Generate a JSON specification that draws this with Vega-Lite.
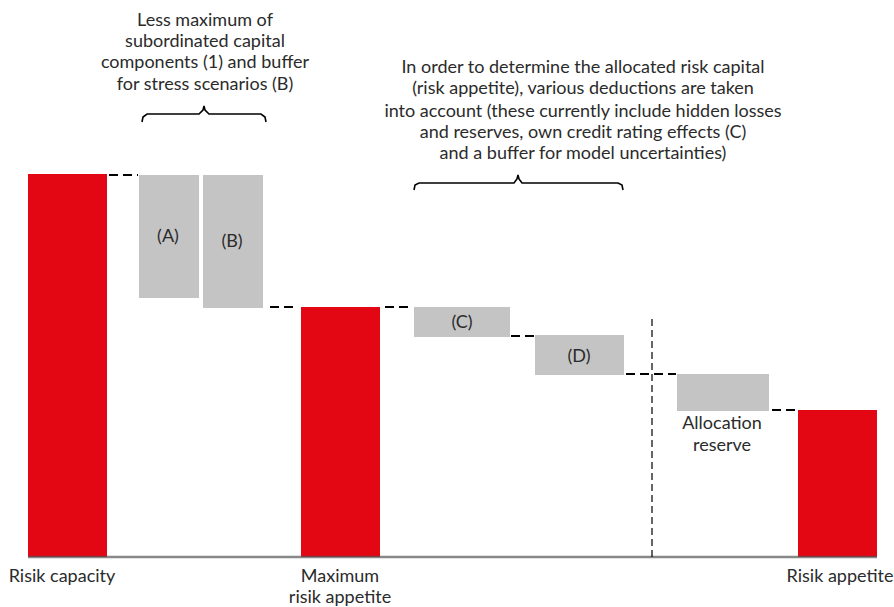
{
  "$schema": "https://vega.github.io/schema/vega-lite/v6.json",
  "width": 894,
  "height": 607,
  "padding": 0,
  "autosize": {"type": "none"},
  "config": {"view": {"stroke": null}, "text": {"font": "Lato", "fontSize": 18, "color": "#2b2b2b"}},
  "datasets": {
    "bars": [
      {"name": "Risik capacity", "kind": "total", "x0": 28, "x1": 107, "lo": 0, "hi": 383},
      {"name": "(A)", "kind": "step", "x0": 139, "x1": 199, "lo": 259, "hi": 382},
      {"name": "(B)", "kind": "step", "x0": 203, "x1": 263, "lo": 249, "hi": 382},
      {"name": "Maximum risik appetite", "kind": "total", "x0": 301, "x1": 380, "lo": 0, "hi": 250},
      {"name": "(C)", "kind": "step", "x0": 414, "x1": 510, "lo": 220, "hi": 250},
      {"name": "(D)", "kind": "step", "x0": 535, "x1": 624, "lo": 182, "hi": 222},
      {"name": "Allocation reserve", "kind": "step", "x0": 677, "x1": 769, "lo": 146, "hi": 183},
      {"name": "Risik appetite", "kind": "total", "x0": 798, "x1": 877, "lo": 0, "hi": 147}
    ],
    "connectors": [
      {"x0": 109, "x1": 138, "v": 382},
      {"x0": 270, "x1": 294, "v": 250},
      {"x0": 385, "x1": 409, "v": 250},
      {"x0": 511, "x1": 535, "v": 221},
      {"x0": 626, "x1": 676, "v": 183},
      {"x0": 772, "x1": 797, "v": 147}
    ],
    "divider": [{"x0": 652, "lo": 0, "hi": 238}],
    "baseline": [{"x0": 28, "x1": 877, "v": 0}],
    "braces": [
      {"b": 1, "o": 1, "x0": 142, "v": 435},
      {"b": 1, "o": 2, "x0": 143, "v": 440},
      {"b": 1, "o": 3, "x0": 147, "v": 443},
      {"b": 1, "o": 4, "x0": 199, "v": 443},
      {"b": 1, "o": 5, "x0": 203, "v": 447},
      {"b": 1, "o": 6, "x0": 204, "v": 451},
      {"b": 1, "o": 7, "x0": 205, "v": 447},
      {"b": 1, "o": 8, "x0": 209, "v": 443},
      {"b": 1, "o": 9, "x0": 261, "v": 443},
      {"b": 1, "o": 10, "x0": 265, "v": 440},
      {"b": 1, "o": 11, "x0": 266, "v": 435},
      {"b": 2, "o": 1, "x0": 414, "v": 367},
      {"b": 2, "o": 2, "x0": 415, "v": 372},
      {"b": 2, "o": 3, "x0": 419, "v": 374},
      {"b": 2, "o": 4, "x0": 514, "v": 374},
      {"b": 2, "o": 5, "x0": 517, "v": 378},
      {"b": 2, "o": 6, "x0": 518, "v": 382},
      {"b": 2, "o": 7, "x0": 519, "v": 378},
      {"b": 2, "o": 8, "x0": 522, "v": 374},
      {"b": 2, "o": 9, "x0": 618, "v": 374},
      {"b": 2, "o": 10, "x0": 622, "v": 372},
      {"b": 2, "o": 11, "x0": 623, "v": 367}
    ],
    "texts": [
      {"x0": 205, "v": 536, "t": "Less maximum of"},
      {"x0": 205, "v": 515, "t": "subordinated capital"},
      {"x0": 205, "v": 494, "t": "components (1) and buffer"},
      {"x0": 205, "v": 472, "t": "for stress scenarios (B)"},
      {"x0": 583, "v": 489, "t": "In order to determine the allocated risk capital"},
      {"x0": 583, "v": 468, "t": "(risk appetite), various deductions are taken"},
      {"x0": 583, "v": 445, "t": "into account (these currently include hidden losses"},
      {"x0": 583, "v": 424, "t": "and reserves, own credit rating effects (C)"},
      {"x0": 583, "v": 403, "t": "and a buffer for model uncertainties)"},
      {"x0": 168, "v": 320, "t": "(A)"},
      {"x0": 232, "v": 315, "t": "(B)"},
      {"x0": 462, "v": 234, "t": "(C)"},
      {"x0": 579, "v": 200, "t": "(D)"},
      {"x0": 722, "v": 133, "t": "Allocation"},
      {"x0": 722, "v": 111, "t": "reserve"},
      {"x0": 62, "v": -20, "t": "Risik capacity"},
      {"x0": 340, "v": -20, "t": "Maximum"},
      {"x0": 340, "v": -41, "t": "risik appetite"},
      {"x0": 840, "v": -20, "t": "Risik appetite"}
    ]
  },
  "layer": [
    {
      "data": {"name": "bars"},
      "mark": {"type": "rect"},
      "encoding": {
        "x": {"field": "x0", "type": "quantitative", "scale": {"domain": [0, 894], "nice": false, "zero": false}, "axis": null},
        "x2": {"field": "x1"},
        "y": {"field": "lo", "type": "quantitative", "scale": {"domain": [-50, 557], "nice": false, "zero": false}, "axis": null},
        "y2": {"field": "hi"},
        "color": {"field": "kind", "type": "nominal", "scale": {"domain": ["total", "step"], "range": ["#e30613", "#c4c4c4"]}, "legend": null}
      }
    },
    {
      "data": {"name": "baseline"},
      "mark": {"type": "rule", "color": "#555555", "opacity": 0.7, "strokeWidth": 2.5},
      "encoding": {
        "x": {"field": "x0", "type": "quantitative"},
        "x2": {"field": "x1"},
        "y": {"field": "v", "type": "quantitative"}
      }
    },
    {
      "data": {"name": "connectors"},
      "mark": {"type": "rule", "color": "#000000", "strokeWidth": 2, "strokeDash": [9, 5]},
      "encoding": {
        "x": {"field": "x0", "type": "quantitative"},
        "x2": {"field": "x1"},
        "y": {"field": "v", "type": "quantitative"}
      }
    },
    {
      "data": {"name": "divider"},
      "mark": {"type": "rule", "color": "#000000", "strokeWidth": 1.2, "strokeDash": [7, 4]},
      "encoding": {
        "x": {"field": "x0", "type": "quantitative"},
        "y": {"field": "lo", "type": "quantitative"},
        "y2": {"field": "hi"}
      }
    },
    {
      "data": {"name": "braces"},
      "mark": {"type": "line", "color": "#000000", "strokeWidth": 1.6},
      "encoding": {
        "x": {"field": "x0", "type": "quantitative"},
        "y": {"field": "v", "type": "quantitative"},
        "detail": {"field": "b", "type": "nominal"},
        "order": {"field": "o", "type": "quantitative"}
      }
    },
    {
      "data": {"name": "texts"},
      "mark": {"type": "text", "baseline": "middle", "align": "center"},
      "encoding": {
        "x": {"field": "x0", "type": "quantitative"},
        "y": {"field": "v", "type": "quantitative"},
        "text": {"field": "t", "type": "nominal"}
      }
    }
  ]
}
